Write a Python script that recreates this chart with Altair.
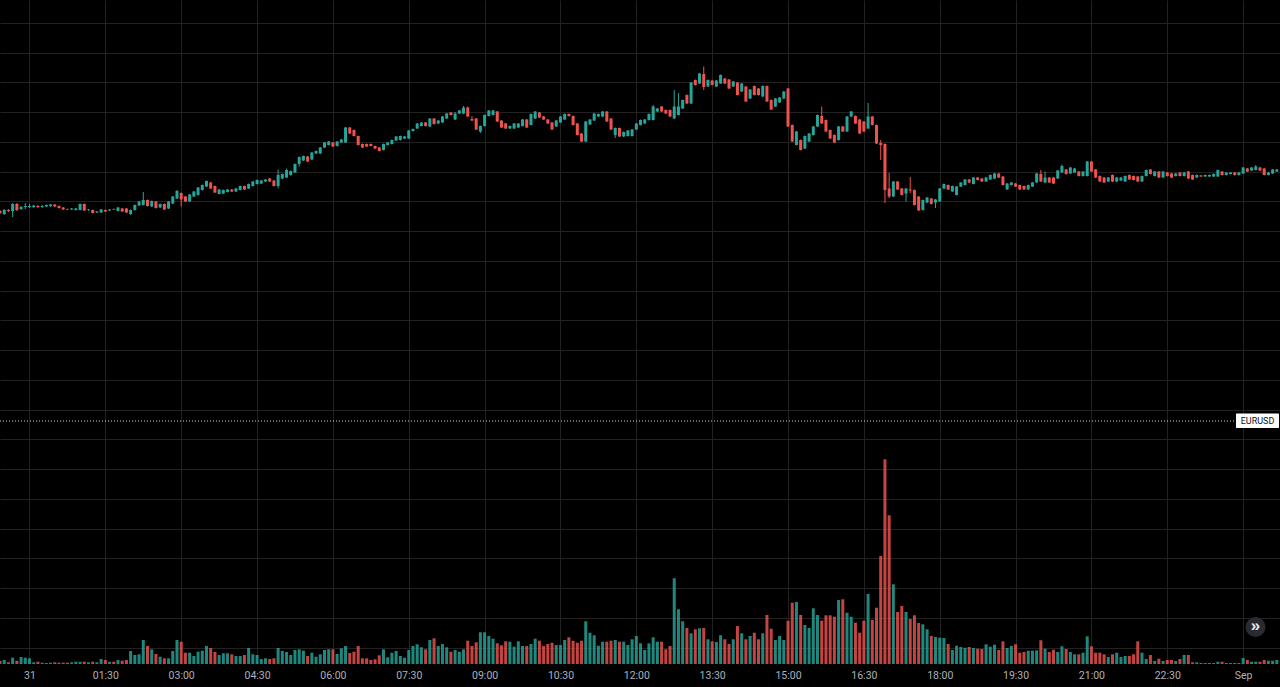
import altair as alt
import pandas as pd

# 5-minute bars; bar 0 = 31 Aug 00:00, first visible bar is -7 (30 Aug 23:25)
FIRST_BAR = -7

opens = [
    1.0789, 1.0786, 1.0790, 1.0789, 1.0796, 1.0791, 1.0793, 1.0793, 1.0793, 1.0794,
    1.0793, 1.07935, 1.0794, 1.07955, 1.0794, 1.07925, 1.0791, 1.07905, 1.0790, 1.0790,
    1.0796, 1.0790, 1.0790, 1.07875, 1.07875, 1.0790, 1.07895, 1.0791, 1.0789, 1.07915,
    1.07915, 1.0786, 1.0790, 1.07945, 1.0795, 1.0800, 1.07935, 1.07985, 1.07925, 1.0796,
    1.07915, 1.07965, 1.08015, 1.0807, 1.08035, 1.07985, 1.08035, 1.0805, 1.0810, 1.08135,
    1.08175, 1.0814, 1.0806, 1.08065, 1.0808, 1.08105, 1.08085, 1.0810, 1.0814, 1.08115,
    1.0814, 1.0816, 1.08165, 1.08185, 1.08215, 1.08195, 1.0814, 1.08215, 1.08225, 1.0825,
    1.08275, 1.0836, 1.08395, 1.08435, 1.08405, 1.08465, 1.08465, 1.08525, 1.0855, 1.08575,
    1.0854, 1.08575, 1.08575, 1.08725, 1.0870, 1.0864, 1.0856, 1.0856, 1.0856, 1.0854,
    1.08525, 1.0850, 1.0855, 1.0856, 1.08595, 1.0860, 1.08615, 1.08615, 1.0869, 1.08715,
    1.0874, 1.08775, 1.08735, 1.08815, 1.08765, 1.08775, 1.08815, 1.08875, 1.08805, 1.08865,
    1.08865, 1.08925, 1.0881, 1.08815, 1.08685, 1.0874, 1.0884, 1.0885, 1.08885, 1.08795,
    1.08765, 1.08715, 1.08715, 1.08725, 1.0874, 1.08805, 1.0875, 1.08815, 1.08875, 1.08835,
    1.08805, 1.08775, 1.08735, 1.08775, 1.08805, 1.0886, 1.0884, 1.08765, 1.08665, 1.08585,
    1.08755, 1.08795, 1.08835, 1.08835, 1.08885, 1.08815, 1.0865, 1.0872, 1.08635, 1.0864,
    1.0864, 1.08705, 1.0875, 1.08765, 1.0880, 1.0880, 1.08885, 1.08935, 1.0890, 1.0890,
    1.08815, 1.0885, 1.08915, 1.0905, 1.08965, 1.0920, 1.09165, 1.0926, 1.09135, 1.09195,
    1.09135, 1.09165, 1.09215, 1.09205, 1.09135, 1.09175, 1.09085, 1.09135, 1.09015, 1.0914,
    1.09115, 1.09035, 1.0914, 1.0900, 1.08935, 1.08975, 1.09015, 1.09115, 1.0875, 1.0855,
    1.0860, 1.08515, 1.08585, 1.0865, 1.08735, 1.0884, 1.0880, 1.0870, 1.0865, 1.0860,
    1.08735, 1.08685, 1.08835, 1.0884, 1.08805, 1.08785, 1.08715, 1.08835, 1.0875, 1.0857,
    1.0856, 1.08115, 1.08035, 1.08185, 1.08115, 1.08065, 1.08105, 1.0810, 1.08035, 1.0790,
    1.07975, 1.08015, 1.07975, 1.07985, 1.08115, 1.0815, 1.08085, 1.0805, 1.08135, 1.0815,
    1.08205, 1.0816, 1.08225, 1.08215, 1.08185, 1.08205, 1.08215, 1.08265, 1.08235, 1.08105,
    1.0815, 1.08165, 1.0815, 1.0814, 1.08105, 1.08135, 1.08175, 1.0826, 1.08175, 1.08225,
    1.08225, 1.08215, 1.08275, 1.08305, 1.08265, 1.08275, 1.08285, 1.0824, 1.0824, 1.08385,
    1.08305, 1.0824, 1.08225, 1.08185, 1.0825, 1.08185, 1.08195, 1.08185, 1.0825, 1.0824,
    1.08235, 1.08185, 1.0824, 1.08305, 1.0824, 1.08285, 1.08225, 1.08275, 1.08265, 1.0824,
    1.08275, 1.0824, 1.08285, 1.0825, 1.08225, 1.08245, 1.08235, 1.08235, 1.08235, 1.08235,
    1.08285, 1.0825, 1.0826, 1.08275, 1.0825, 1.08265, 1.08315, 1.08295, 1.0830, 1.08325,
    1.08315, 1.0825, 1.08265, 1.08285,
]

highs = [
    1.0790, 1.0791, 1.0791, 1.0797, 1.0797, 1.0794, 1.0797, 1.0796, 1.0795, 1.0795,
    1.0795, 1.07955, 1.0796, 1.0796, 1.07945, 1.0793, 1.07915, 1.0792, 1.0792, 1.07965,
    1.07965, 1.0791, 1.07905, 1.0789, 1.0791, 1.07905, 1.0791, 1.07915, 1.0793, 1.0792,
    1.0792, 1.07905, 1.07955, 1.0799, 1.0808, 1.08005, 1.07995, 1.0799, 1.07965, 1.07965,
    1.0799, 1.0804, 1.0810, 1.08075, 1.0804, 1.0806, 1.0809, 1.0813, 1.08155, 1.08195,
    1.0818, 1.08145, 1.0811, 1.08105, 1.0811, 1.0811, 1.0812, 1.08145, 1.08145, 1.08165,
    1.0819, 1.08205, 1.0820, 1.0821, 1.0822, 1.0820, 1.08305, 1.08265, 1.08315, 1.08295,
    1.08365, 1.08435, 1.08445, 1.0844, 1.0848, 1.08495, 1.0853, 1.0858, 1.0859, 1.0858,
    1.0859, 1.0861, 1.0873, 1.0873, 1.08705, 1.08645, 1.08565, 1.08565, 1.08565, 1.08545,
    1.0853, 1.08565, 1.0858, 1.08605, 1.0864, 1.08645, 1.0864, 1.0870, 1.08715, 1.0877,
    1.0878, 1.0878, 1.0882, 1.0882, 1.0880, 1.0884, 1.0887, 1.0888, 1.0888, 1.0890,
    1.0894, 1.08935, 1.0884, 1.0882, 1.08745, 1.08855, 1.0890, 1.0890, 1.0889, 1.0880,
    1.0877, 1.08745, 1.0877, 1.0877, 1.0881, 1.0881, 1.08865, 1.0889, 1.0888, 1.0884,
    1.0881, 1.0878, 1.0880, 1.0884, 1.08865, 1.08865, 1.08845, 1.0877, 1.0867, 1.0879,
    1.0881, 1.0887, 1.08865, 1.0889, 1.0889, 1.0882, 1.08725, 1.08725, 1.08685, 1.0870,
    1.0871, 1.0877, 1.08805, 1.0881, 1.08865, 1.0895, 1.0892, 1.0894, 1.08905, 1.08905,
    1.0910, 1.0907, 1.09005, 1.09055, 1.0918, 1.09205, 1.0927, 1.09335, 1.09205, 1.0920,
    1.0920, 1.09255, 1.0922, 1.0921, 1.0919, 1.0918, 1.0917, 1.0914, 1.0911, 1.09145,
    1.0912, 1.09145, 1.09145, 1.09005, 1.0902, 1.0903, 1.0909, 1.0912, 1.08755, 1.0869,
    1.08605, 1.08645, 1.0867, 1.0874, 1.08855, 1.08935, 1.08805, 1.08705, 1.08655, 1.0874,
    1.0874, 1.0884, 1.0889, 1.08845, 1.0881, 1.0879, 1.0897, 1.0884, 1.08755, 1.0860,
    1.08565, 1.0827, 1.0819, 1.0819, 1.0812, 1.0812, 1.0823, 1.08105, 1.0804, 1.08005,
    1.0803, 1.0802, 1.0801, 1.0812, 1.08165, 1.08155, 1.08145, 1.0814, 1.0818, 1.0821,
    1.0821, 1.0823, 1.0823, 1.0822, 1.0823, 1.08255, 1.0827, 1.0827, 1.0824, 1.0817,
    1.0818, 1.0817, 1.08155, 1.08145, 1.08155, 1.0818, 1.0827, 1.0830, 1.08285, 1.0823,
    1.0823, 1.0830, 1.08355, 1.0831, 1.0833, 1.0832, 1.0829, 1.0829, 1.0839, 1.0839,
    1.0831, 1.08245, 1.0823, 1.0823, 1.08255, 1.0823, 1.0823, 1.08245, 1.08255, 1.08245,
    1.0824, 1.08245, 1.08305, 1.0831, 1.0829, 1.0829, 1.0829, 1.0828, 1.0827, 1.0827,
    1.0828, 1.0828, 1.0829, 1.08255, 1.08255, 1.0825, 1.08255, 1.08255, 1.08265, 1.08305,
    1.0829, 1.0828, 1.0828, 1.0828, 1.0828, 1.0833, 1.0832, 1.0833, 1.0835, 1.0833,
    1.0832, 1.0828, 1.0831, 1.0831,
]

lows = [
    1.0786, 1.0785, 1.0788, 1.0783, 1.0789, 1.0790, 1.0791, 1.0792, 1.0792, 1.0792,
    1.0792, 1.0793, 1.0793, 1.0793, 1.07915, 1.0790, 1.0790, 1.0790, 1.07895, 1.07895,
    1.0789, 1.0789, 1.07865, 1.0787, 1.0787, 1.0788, 1.0789, 1.0790, 1.07885, 1.0788,
    1.0787, 1.0785, 1.07895, 1.0794, 1.07945, 1.07935, 1.0793, 1.07915, 1.0792, 1.0790,
    1.0791, 1.0796, 1.0801, 1.07935, 1.0798, 1.0798, 1.0803, 1.08045, 1.08095, 1.0813,
    1.0811, 1.0807, 1.08055, 1.0806, 1.08075, 1.0808, 1.0808, 1.08095, 1.0810, 1.0811,
    1.08135, 1.08155, 1.0816, 1.0818, 1.0818, 1.08135, 1.08115, 1.0821, 1.0822, 1.08245,
    1.0827, 1.08335, 1.0839, 1.0838, 1.0840, 1.0846, 1.0846, 1.0852, 1.08545, 1.0853,
    1.08535, 1.0857, 1.0857, 1.0866, 1.08635, 1.08545, 1.0852, 1.0853, 1.08535, 1.0851,
    1.08485, 1.08495, 1.08545, 1.08555, 1.0859, 1.08595, 1.0861, 1.0861, 1.08685, 1.0871,
    1.08735, 1.08735, 1.0873, 1.08755, 1.0876, 1.0877, 1.0881, 1.08845, 1.0880, 1.0886,
    1.0886, 1.0883, 1.0879, 1.0870, 1.0867, 1.08735, 1.08835, 1.08845, 1.0878, 1.0872,
    1.0871, 1.0871, 1.0871, 1.0872, 1.08735, 1.0872, 1.08745, 1.0881, 1.0882, 1.0880,
    1.0876, 1.0870, 1.0873, 1.0877, 1.0880, 1.08835, 1.08745, 1.08645, 1.0858, 1.0858,
    1.0875, 1.0879, 1.0883, 1.0883, 1.0878, 1.0870, 1.0862, 1.0863, 1.0863, 1.08635,
    1.08635, 1.0870, 1.08745, 1.0876, 1.08795, 1.08795, 1.0888, 1.0888, 1.0886, 1.0883,
    1.0881, 1.08845, 1.0891, 1.0896, 1.0896, 1.09145, 1.0916, 1.0910, 1.0913, 1.09145,
    1.0913, 1.0916, 1.0916, 1.0911, 1.0913, 1.09045, 1.0908, 1.0898, 1.0901, 1.09045,
    1.09045, 1.0903, 1.0898, 1.0890, 1.0893, 1.0897, 1.0901, 1.0873, 1.0858, 1.08545,
    1.08495, 1.0851, 1.0858, 1.08645, 1.0873, 1.0876, 1.0868, 1.0861, 1.0857, 1.08595,
    1.0868, 1.0868, 1.0883, 1.0876, 1.0866, 1.0868, 1.0871, 1.08745, 1.0856, 1.0840,
    1.0797, 1.0802, 1.0803, 1.0810, 1.08045, 1.07985, 1.0807, 1.07945, 1.0789, 1.07895,
    1.0797, 1.07955, 1.0792, 1.0798, 1.0811, 1.0810, 1.0808, 1.08045, 1.0813, 1.08145,
    1.0817, 1.08155, 1.08195, 1.0818, 1.0818, 1.0820, 1.0821, 1.0822, 1.08145, 1.0810,
    1.08145, 1.0813, 1.0810, 1.0810, 1.0810, 1.0813, 1.0817, 1.0818, 1.0817, 1.0817,
    1.0816, 1.0821, 1.0827, 1.08255, 1.0826, 1.0827, 1.08235, 1.08235, 1.08235, 1.0828,
    1.0822, 1.0818, 1.0817, 1.0818, 1.0818, 1.0818, 1.0819, 1.0818, 1.0820, 1.08195,
    1.0818, 1.0818, 1.08235, 1.08255, 1.08235, 1.0822, 1.0822, 1.08235, 1.0822, 1.08235,
    1.08235, 1.08235, 1.0821, 1.0820, 1.0822, 1.0823, 1.0823, 1.0823, 1.0823, 1.0823,
    1.08245, 1.08245, 1.08255, 1.08245, 1.08245, 1.0826, 1.0828, 1.0829, 1.08295, 1.0829,
    1.08245, 1.08245, 1.0826, 1.0828,
]

closes = [
    1.0787, 1.0790, 1.0789, 1.0796, 1.0790, 1.0793, 1.0794, 1.0794, 1.07945, 1.0793,
    1.0794, 1.0795, 1.07955, 1.07935, 1.0792, 1.07905, 1.07905, 1.07915, 1.07915, 1.0796,
    1.07895, 1.07905, 1.0787, 1.07885, 1.07905, 1.07885, 1.07905, 1.07905, 1.07925, 1.07885,
    1.07875, 1.0790, 1.0795, 1.07985, 1.0800, 1.0794, 1.0799, 1.0792, 1.0796, 1.07905,
    1.07985, 1.08035, 1.0809, 1.08005, 1.07985, 1.08055, 1.08085, 1.08125, 1.0815, 1.0819,
    1.08115, 1.08075, 1.08105, 1.0810, 1.08105, 1.08085, 1.08115, 1.0814, 1.08105, 1.0816,
    1.08185, 1.0820, 1.08195, 1.08205, 1.08185, 1.0814, 1.0825, 1.0826, 1.0830, 1.0829,
    1.0836, 1.0843, 1.0844, 1.08385, 1.08475, 1.0849, 1.08525, 1.08575, 1.08585, 1.08535,
    1.08585, 1.08605, 1.08725, 1.08665, 1.0864, 1.0855, 1.08525, 1.08535, 1.0854, 1.08515,
    1.0849, 1.0856, 1.08575, 1.0860, 1.08635, 1.0864, 1.08635, 1.08695, 1.0871, 1.08765,
    1.08775, 1.0874, 1.08815, 1.0876, 1.08795, 1.08835, 1.08865, 1.0885, 1.08865, 1.08895,
    1.08925, 1.08835, 1.08795, 1.08705, 1.0874, 1.0885, 1.08895, 1.08895, 1.08785, 1.08725,
    1.08715, 1.0874, 1.08765, 1.08765, 1.08805, 1.08725, 1.0886, 1.08885, 1.08825, 1.08805,
    1.08765, 1.08705, 1.08795, 1.08835, 1.0886, 1.0884, 1.0875, 1.0865, 1.08585, 1.08785,
    1.08805, 1.08865, 1.0886, 1.08885, 1.08785, 1.08705, 1.0872, 1.08635, 1.0868, 1.08695,
    1.08705, 1.08765, 1.0880, 1.08805, 1.0886, 1.08935, 1.08915, 1.08885, 1.08865, 1.08835,
    1.08935, 1.08935, 1.0900, 1.08965, 1.09175, 1.0915, 1.09265, 1.0913, 1.0920, 1.0915,
    1.09195, 1.0925, 1.09165, 1.09115, 1.09185, 1.0905, 1.09165, 1.08985, 1.09105, 1.0905,
    1.0905, 1.0914, 1.08985, 1.08905, 1.09015, 1.09025, 1.09085, 1.08735, 1.08585, 1.08685,
    1.0850, 1.0864, 1.08665, 1.08735, 1.0885, 1.08765, 1.08685, 1.08615, 1.08575, 1.08735,
    1.08685, 1.08835, 1.08885, 1.08765, 1.08665, 1.08685, 1.08835, 1.0875, 1.08565, 1.0855,
    1.0810, 1.08035, 1.08185, 1.08105, 1.0805, 1.08115, 1.08095, 1.0795, 1.07895, 1.0800,
    1.08025, 1.0796, 1.08005, 1.08115, 1.0816, 1.08105, 1.0814, 1.08135, 1.08175, 1.08205,
    1.08175, 1.08225, 1.0820, 1.08185, 1.08225, 1.0825, 1.08265, 1.08225, 1.0815, 1.08165,
    1.08175, 1.08135, 1.08105, 1.08105, 1.0815, 1.08175, 1.08265, 1.08185, 1.08225, 1.08175,
    1.08165, 1.08295, 1.0834, 1.0826, 1.08325, 1.08315, 1.0824, 1.08285, 1.08385, 1.08285,
    1.08225, 1.08185, 1.08175, 1.08225, 1.08185, 1.08225, 1.08225, 1.0824, 1.08205, 1.0820,
    1.08185, 1.0824, 1.0830, 1.0826, 1.08285, 1.08225, 1.08285, 1.0824, 1.08225, 1.08265,
    1.0824, 1.08275, 1.08215, 1.08205, 1.0825, 1.08235, 1.0825, 1.0825, 1.0826, 1.0830,
    1.0825, 1.08275, 1.08275, 1.0825, 1.08275, 1.08325, 1.08285, 1.08325, 1.08335, 1.08295,
    1.0825, 1.08275, 1.08305, 1.08305,
]

volumes = [
    60, 80, 34, 126, 66, 140, 126, 114, 34, 46,
    26, 20, 26, 34, 26, 26, 26, 34, 46, 46,
    46, 34, 46, 34, 100, 80, 46, 46, 80, 66,
    80, 260, 180, 194, 480, 360, 294, 200, 146, 114,
    114, 260, 480, 446, 226, 226, 160, 246, 266, 360,
    320, 240, 180, 214, 214, 194, 160, 160, 180, 320,
    194, 180, 100, 114, 100, 114, 320, 260, 240, 180,
    280, 294, 266, 160, 226, 146, 194, 280, 294, 294,
    200, 314, 360, 220, 246, 360, 114, 114, 80, 94,
    174, 294, 134, 226, 260, 160, 126, 280, 360, 394,
    334, 294, 480, 514, 360, 400, 334, 246, 280, 246,
    294, 466, 360, 434, 634, 634, 560, 506, 414, 374,
    454, 446, 346, 454, 360, 360, 400, 506, 466, 360,
    400, 426, 380, 380, 480, 534, 466, 426, 466, 854,
    626, 574, 366, 446, 446, 466, 480, 446, 446, 380,
    494, 560, 414, 280, 414, 534, 446, 446, 294, 360,
    1714, 1094, 854, 720, 614, 694, 714, 720, 494, 454,
    440, 574, 494, 400, 494, 760, 614, 494, 560, 626,
    494, 614, 980, 706, 480, 560, 480, 866, 1226, 1240,
    980, 780, 720, 1114, 980, 866, 974, 974, 946, 1280,
    1294, 1026, 946, 826, 626, 866, 1400, 880, 1126, 2160,
    4094, 2974, 1594, 1040, 1160, 1040, 900, 974, 820, 794,
    694, 560, 540, 526, 520, 400, 280, 366, 340, 326,
    340, 320, 306, 300, 394, 346, 386, 280, 454, 320,
    360, 394, 226, 240, 266, 266, 274, 474, 306, 240,
    286, 240, 354, 300, 240, 194, 194, 226, 554, 354,
    226, 226, 194, 140, 194, 226, 140, 160, 160, 194,
    454, 226, 100, 180, 60, 106, 60, 80, 80, 60,
    100, 180, 180, 34, 34, 20, 20, 20, 20, 46,
    46, 20, 20, 20, 20, 120, 80, 46, 46, 46,
    80, 66, 66, 80,
]

tick_bars = [0, 18, 36, 54, 72, 90, 108, 126, 144, 162, 180, 198, 216, 234, 252, 270, 288]
tick_labels = ["31", "01:30", "03:00", "04:30", "06:00", "07:30", "09:00", "10:30",
               "12:00", "13:30", "15:00", "16:30", "18:00", "19:30", "21:00", "22:30", "Sep"]

compare_symbol = "EURUSD"
compare_level = [1.0579]

# visible ranges
bar_range = [-7.0, 296.75]
price_range = [1.0336, 1.1000]
volume_range = [0, 13280]
grid_top = 1.09772
grid_step = 0.002975
grid_prices = [round(grid_top - grid_step * k, 6) for k in range(22)]

UP = "#26a69a"
DOWN = "#ef5350"
GRID = "#222222"
BG = "#000000"

n = len(closes)
df = pd.DataFrame({
    "bar": list(range(FIRST_BAR, FIRST_BAR + n)),
    "open": opens, "high": highs, "low": lows, "close": closes, "volume": volumes,
})
df["dir"] = ["up" if c >= o else "down" for o, c in zip(opens, closes)]

color = alt.Color("dir:N", scale=alt.Scale(domain=["up", "down"], range=[UP, DOWN]), legend=None)

labels_js = "[" + ",".join("'" + t + "'" for t in tick_labels) + "]"
x_axis = alt.Axis(
    values=tick_bars, grid=True, gridColor=GRID, gridWidth=1,
    ticks=False, domain=False, title=None,
    labelExpr=labels_js + "[round(datum.value / 18)]",
    labelColor="#aeb1b9", labelFont="Roboto", labelFontSize=10.5,
    labelPadding=6, labelFlush=False, labelOverlap=False,
)
x_enc = alt.X("bar:Q", scale=alt.Scale(domain=bar_range, nice=False, zero=False, padding=0),
              axis=x_axis)
price_scale = alt.Scale(domain=price_range, nice=False, zero=False, padding=0)
y_axis = alt.Axis(values=grid_prices, grid=True, gridColor=GRID, gridWidth=1,
                  labels=False, ticks=False, domain=False, title=None)

base = alt.Chart(df)

volume = base.mark_bar(size=3, opacity=0.82).encode(
    x=x_enc,
    y=alt.Y("volume:Q", scale=alt.Scale(domain=volume_range, nice=False, padding=0), axis=None),
    color=color,
)

wicks = base.mark_rule(strokeWidth=1).encode(
    x=x_enc,
    y=alt.Y("low:Q", scale=price_scale, axis=y_axis),
    y2="high:Q",
    color=color,
)

bodies = base.mark_bar(size=3).encode(
    x=x_enc,
    y=alt.Y("open:Q", scale=price_scale, axis=None),
    y2="close:Q",
    color=color,
)

cmp_df = pd.DataFrame({"level": compare_level, "name": [compare_symbol]})
cmp_base = alt.Chart(cmp_df)
cmp_line = cmp_base.mark_rule(strokeDash=[1, 2], color="#d6d6d6", strokeWidth=1).encode(
    y=alt.Y("level:Q", scale=price_scale, axis=None),
    x=alt.value(0), x2=alt.value(1236),
)
cmp_tag = cmp_base.mark_rect(color="#ffffff", cornerRadius=1).encode(
    x=alt.value(1236), x2=alt.value(1279),
    y=alt.value(413.5), y2=alt.value(428),
)
cmp_text = cmp_base.mark_text(fontSize=9, color="#111111", font="Roboto",
                              align="center", baseline="middle").encode(
    text="name:N",
    x=alt.value(1257.5),
    y=alt.Y("level:Q", scale=price_scale, axis=None),
)

btn_df = pd.DataFrame({"label": ["»"]})
btn_circle = alt.Chart(btn_df).mark_point(shape="circle", filled=True, size=400,
                                          color="#2a2b30", opacity=1).encode(
    x=alt.value(1255.5), y=alt.value(627),
)
btn_text = alt.Chart(btn_df).mark_text(fontSize=17, color="#e6e8ee", fontWeight="bold",
                                       align="center", baseline="middle", dy=-1).encode(
    text="label:N", x=alt.value(1255.5), y=alt.value(627),
)

chart = alt.layer(
    volume, wicks, bodies, cmp_line, cmp_tag, cmp_text, btn_circle, btn_text
).resolve_scale(y="independent").properties(
    width=1280, height=664,
    padding={"left": 0, "top": 0, "right": 0, "bottom": 23},
    autosize=alt.AutoSizeParams(type="none"),
    background=BG,
).configure_view(stroke=None)

chart.save("out.html", embed_options={"renderer": "svg", "actions": False})
